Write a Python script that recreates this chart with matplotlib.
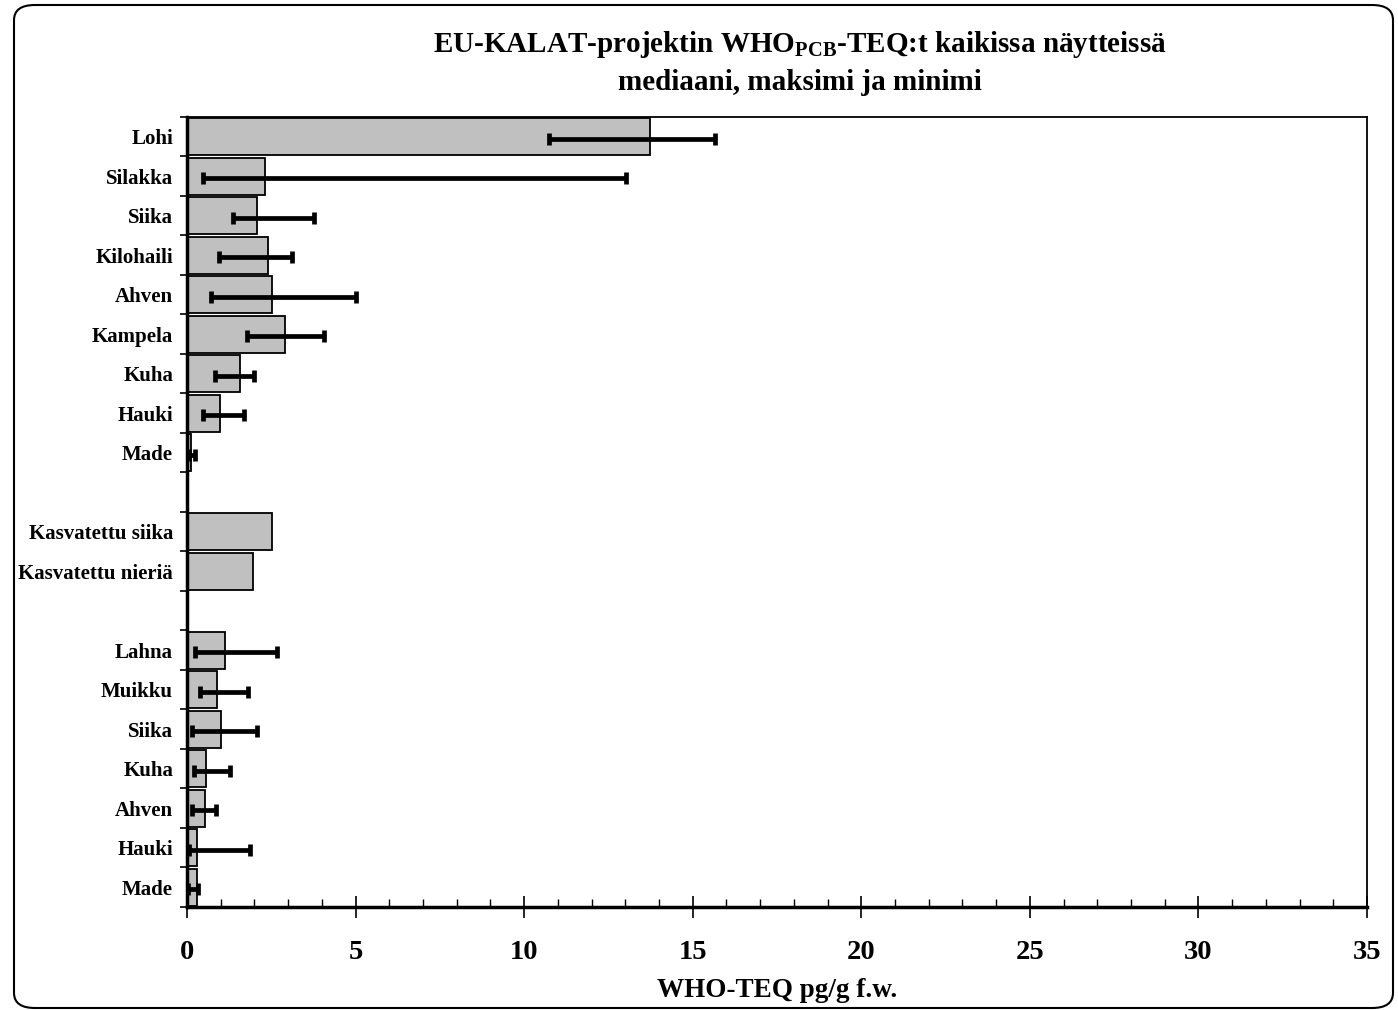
import matplotlib
matplotlib.use("Agg")
import matplotlib.pyplot as plt
from matplotlib.patches import FancyBboxPatch
from matplotlib.ticker import MultipleLocator, FixedLocator
import numpy as np

plt.rcParams['font.family'] = ['Liberation Serif', 'DejaVu Serif']
plt.rcParams['mathtext.fontset'] = 'custom'
plt.rcParams['mathtext.rm'] = 'Liberation Serif:bold'
plt.rcParams['mathtext.bf'] = 'Liberation Serif:bold'

categories = ["Lohi", "Silakka", "Siika", "Kilohaili", "Ahven", "Kampela", "Kuha",
              "Hauki", "Made", "", "Kasvatettu siika", "Kasvatettu nieriä", "",
              "Lahna", "Muikku", "Siika", "Kuha", "Ahven", "Hauki", "Made"]
median = [13.72, 2.31, 2.09, 2.39, 2.53, 2.92, 1.57, 0.99, 0.12, None, 2.53, 1.96, None,
          1.13, 0.88, 1.00, 0.56, 0.52, 0.30, 0.30]
minimum = [10.73, 0.48, 1.36, 0.96, 0.70, 1.78, 0.82, 0.48, 0.05, None, None, None, None,
           0.24, 0.39, 0.16, 0.21, 0.16, 0.06, 0.04]
maximum = [15.65, 13.03, 3.76, 3.10, 5.00, 4.06, 2.00, 1.70, 0.25, None, None, None, None,
           2.66, 1.80, 2.09, 1.27, 0.87, 1.88, 0.33]
xticks = [0, 5, 10, 15, 20, 25, 30, 35]

fig = plt.figure(figsize=(13.98, 10.10), dpi=100)
ax = fig.add_axes([187/1398, 1-907/1010, (1367-187)/1398, (907-117)/1010])

ypos = np.arange(len(categories))
bar_y = [y for y, m in zip(ypos, median) if m is not None]
bar_w = [m for m in median if m is not None]
ax.barh(bar_y, bar_w, height=0.94, color='#C0C0C0', edgecolor='black', linewidth=1.3, zorder=2)

for y, m, lo, hi in zip(ypos, median, minimum, maximum):
    if m is None or lo is None:
        continue
    ax.errorbar(m, y + 0.05, xerr=[[m - lo], [hi - m]], fmt='none', ecolor='black',
                elinewidth=3.4, capsize=4.5, capthick=3.4, zorder=3)

ax.set_xlim(0, 35)
ax.set_ylim(len(categories) - 0.5, -0.5)

ax.set_yticks(ypos)
ax.set_yticklabels(categories, fontsize=15, fontweight='bold')
ax.tick_params(axis='y', which='major', length=0, pad=10)
ax.yaxis.set_minor_locator(FixedLocator(np.arange(-0.5, len(categories), 1.0)))
ax.tick_params(axis='y', which='minor', length=5, direction='out', width=1.2)

ax.set_xticks(xticks)
ax.set_xticklabels([str(t) for t in xticks], fontsize=20.5, fontweight='bold')
ax.xaxis.set_minor_locator(MultipleLocator(1))
ax.tick_params(axis='x', which='major', direction='inout', length=16, width=1.2, pad=16)
ax.tick_params(axis='x', which='minor', direction='in', length=6, width=1.0)

for s in ['top', 'right']:
    ax.spines[s].set_linewidth(1.3)
for s in ['bottom', 'left']:
    ax.spines[s].set_linewidth(2.5)

ax.set_xlabel("WHO-TEQ pg/g f.w.", fontsize=19.5, fontweight='bold', labelpad=9)

fig.text(800/1398, 1-45/1010, r"EU-KALAT-projektin WHO$_{\mathrm{PCB}}$-TEQ:t kaikissa näytteissä",
         ha='center', va='center', fontsize=21, fontweight='bold')
fig.text(800/1398, 1-82/1010, "mediaani, maksimi ja minimi",
         ha='center', va='center', fontsize=21, fontweight='bold')

border = FancyBboxPatch((14/1398, 2/1010), (1393-14)/1398, (1005-2)/1010,
                        boxstyle="round,pad=0,rounding_size=0.015",
                        transform=fig.transFigure, fill=False, edgecolor='black',
                        linewidth=1.5)
fig.patches.append(border)

fig.savefig("out.png", dpi=100)
